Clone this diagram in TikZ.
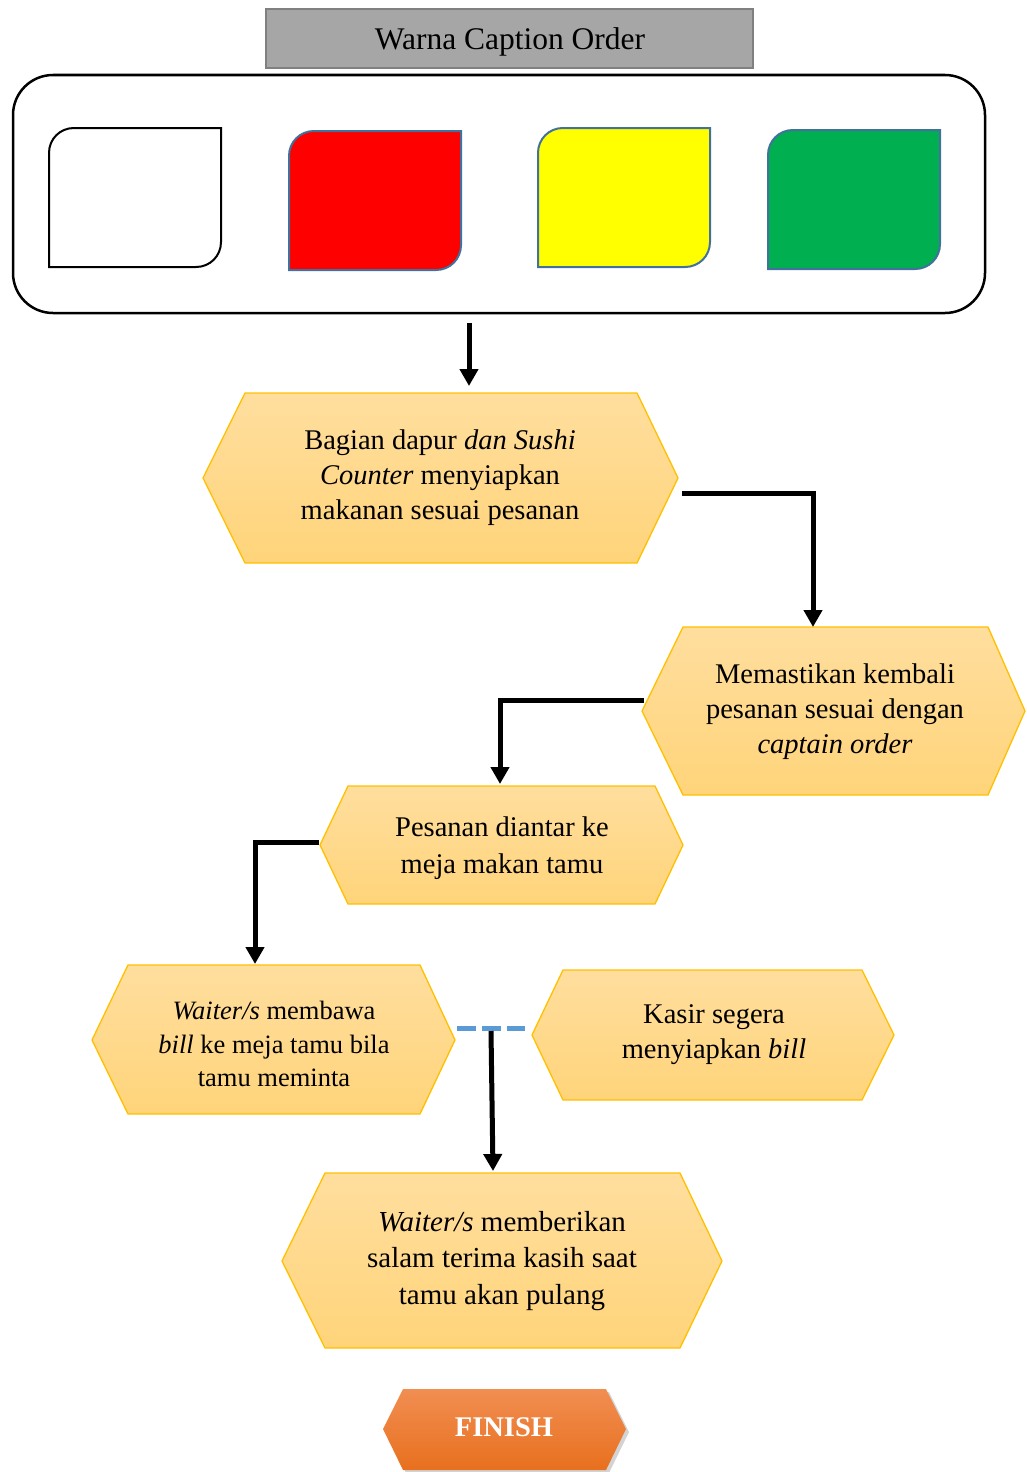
\documentclass[tikz,border=0pt]{standalone}
\usepackage{fontspec}
\setmainfont{Liberation Serif}
\usetikzlibrary{arrows.meta,shadows}
\definecolor{hexborder}{HTML}{FFC000}
\definecolor{hextop}{RGB}{255,222,158}
\definecolor{hexbot}{RGB}{255,212,122}
\definecolor{boxblue}{HTML}{41719C}
\definecolor{dashblue}{HTML}{5B9BD5}
\definecolor{greenbox}{HTML}{00B050}
\definecolor{yellowbox}{RGB}{255,255,0}
\definecolor{headfill}{HTML}{A6A6A6}
\definecolor{headline}{HTML}{808080}
\definecolor{fintop}{RGB}{241,142,82}
\definecolor{finbot}{RGB}{232,112,30}
\tikzset{
  hexshape/.style={draw=hexborder, line width=1.3pt, top color=hextop, bottom color=hexbot, shading angle=0},
  hextext/.style={align=center, font=\fontsize{28.5}{35}\selectfont, inner sep=0pt},
  flowarrow/.style={line width=5pt, -{Triangle[width=18pt,length=17pt]}},
  colorbox/.style={line width=2pt, draw=boxblue},
}
\begin{document}
\begin{tikzpicture}[x=1pt,y=-1pt]
\useasboundingbox (0,0) rectangle (1026,1472);

% header
\draw[headline, fill=headfill, line width=2pt] (266,9) rectangle (753,68);
\node[font=\fontsize{31.5}{36}\selectfont] (head) at (510,42) {Warna Caption Order};

% outer frame
\draw[line width=2.5pt, rounded corners=40pt] (13,75) rectangle (985,313);
\coordinate (frameout) at (469,323);

% color boxes (top-left and bottom-right corners rounded)
\draw[line width=2pt, fill=white] (49,267) -- (49,153) .. controls (49,139) and (60,128) .. (74,128) -- (221,128) -- (221,242) .. controls (221,256) and (210,267) .. (196,267) -- cycle;
\draw[colorbox, fill=red] (289,270) -- (289,156) .. controls (289,142) and (300,131) .. (314,131) -- (461,131) -- (461,245) .. controls (461,259) and (450,270) .. (436,270) -- cycle;
\draw[colorbox, fill=yellowbox] (538,267) -- (538,153) .. controls (538,139) and (549,128) .. (563,128) -- (710,128) -- (710,242) .. controls (710,256) and (699,267) .. (685,267) -- cycle;
\draw[colorbox, fill=greenbox] (768,269) -- (768,155) .. controls (768,141) and (779,130) .. (793,130) -- (940,130) -- (940,244) .. controls (940,258) and (929,269) .. (915,269) -- cycle;

% hex 1
\draw[hexshape] (203,478) -- (245,393) -- (637,393) -- (678,478) -- (637,563) -- (245,563) -- cycle;
\node[hextext] (h1) at (440,478) {Bagian dapur \textit{dan Sushi}\\\textit{Counter} menyiapkan\\makanan sesuai pesanan};
\coordinate (h1top) at (469,386);
\coordinate (h1out) at (682,493);

% hex 2
\draw[hexshape] (642,711) -- (683,627) -- (988,627) -- (1025,711) -- (988,795) -- (683,795) -- cycle;
\node[hextext] (h2) at (835,712) {Memastikan kembali\\pesanan sesuai dengan\\\textit{captain order}};
\coordinate (h2top) at (813,627);
\coordinate (h2out) at (644,700);

% hex 3
\draw[hexshape] (320,845) -- (348,786) -- (655,786) -- (683,845) -- (655,904) -- (348,904) -- cycle;
\node[hextext, font=\fontsize{28.5}{37}\selectfont] (h3) at (502,848) {Pesanan diantar ke\\meja makan tamu};
\coordinate (h3top) at (500,784);
\coordinate (h3out) at (319,842);

% hex 4
\draw[hexshape] (92,1040) -- (128,965) -- (420,965) -- (455,1040) -- (420,1114) -- (128,1114) -- cycle;
\node[hextext, font=\fontsize{26.5}{33.5}\selectfont] (h4) at (274,1044) {\textit{Waiter/s} membawa\\\textit{bill} ke meja tamu bila\\tamu meminta};
\coordinate (h4top) at (255,964);

% hex 5
\draw[hexshape] (532,1035) -- (563,970) -- (862,970) -- (894,1035) -- (862,1100) -- (563,1100) -- cycle;
\node[hextext] (h5) at (714,1035) {Kasir segera\\menyiapkan \textit{bill}};

% dashed link
\coordinate (dashL) at (457,1028.5);
\coordinate (dashR) at (525,1028.5);
\draw[dashblue, line width=5.5pt, dash pattern=on 19pt off 6pt] (dashL) -- (dashR);
\coordinate (mergeout) at (491,1031);

% hex 6
\draw[hexshape] (282,1261) -- (325,1173) -- (680,1173) -- (722,1261) -- (680,1348) -- (325,1348) -- cycle;
\node[hextext, font=\fontsize{29}{36.5}\selectfont] (h6) at (502,1261) {\textit{Waiter/s} memberikan\\salam terima kasih saat\\tamu akan pulang};
\coordinate (h6top) at (493,1171);

% finish
\path[drop shadow={shadow xshift=3pt, shadow yshift=-3pt, opacity=0.35}, top color=fintop, bottom color=finbot]
  (383,1429) -- (403,1389) -- (606,1389) -- (626,1429) -- (606,1470) -- (403,1470) -- cycle;
\node[text=white, font=\bfseries\fontsize{28.5}{34}\selectfont] (fin) at (504,1427) {FINISH};

% connectors
\draw[flowarrow] (frameout) -- (h1top);
\draw[flowarrow] (h1out) -| (h2top);
\draw[flowarrow] (h2out) -| (h3top);
\draw[flowarrow] (h3out) -| (h4top);
\draw[flowarrow] (mergeout) -- (h6top);

\end{tikzpicture}
\end{document}
